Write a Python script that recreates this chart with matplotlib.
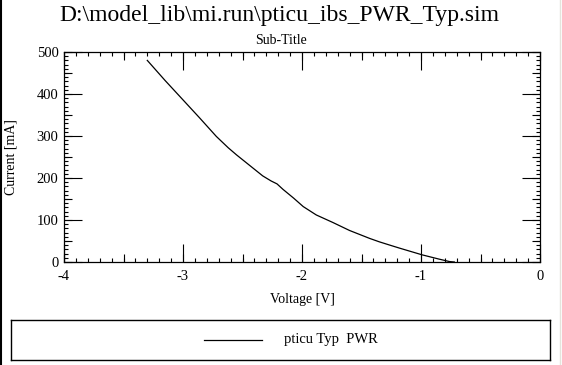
import matplotlib
matplotlib.use("Agg")
import matplotlib.pyplot as plt
from matplotlib.lines import Line2D
from matplotlib.ticker import MultipleLocator, NullFormatter

voltage = [-3.30, -3.15, -3.00, -2.86, -2.72, -2.62, -2.55, -2.44, -2.33, -2.26,
           -2.21, -2.16, -2.07, -1.99, -1.88, -1.74, -1.60, -1.43, -1.35, -1.26,
           -1.18, -0.99, -0.85, -0.76, -0.72]
current = [480, 432, 386, 343, 299, 272, 255, 230, 205, 193,
           186, 173, 152, 132, 112, 94, 75, 56, 48, 40,
           33, 17, 7, 1, 0]
series_name = "pticu Typ  PWR"
title = "D:\\model_lib\\mi.run\\pticu_ibs_PWR_Typ.sim"
subtitle = "Sub-Title"
xlabel = "Voltage [V]"
ylabel = "Current [mA]"

plt.rcParams['font.family'] = ['Liberation Serif', 'DejaVu Serif']
plt.rcParams['axes.unicode_minus'] = False

W, H = 562, 365
fig = plt.figure(figsize=(W / 100, H / 100), dpi=100)
fig.patch.set_facecolor('white')

def fx(px):
    return px / W

def fy(py):
    return 1 - py / H

L, R, T, B = 64, 540, 52, 262
ax = fig.add_axes([fx(L), fy(B), (R - L) / W, (B - T) / H])
ax.plot(voltage, current, color='black', lw=0.9)
ax.set_xlim(-4, 0)
ax.set_ylim(0, 500)

for s in ax.spines.values():
    s.set_linewidth(0.9)

ax.xaxis.set_major_locator(MultipleLocator(1))
ax.xaxis.set_minor_locator(MultipleLocator(0.1))
ax.yaxis.set_major_locator(MultipleLocator(100))
ax.yaxis.set_minor_locator(MultipleLocator(10))
ax.tick_params(which='major', direction='in', length=13, width=0.8,
               top=True, right=True, labelsize=10.5)
ax.tick_params(axis='x', which='major', pad=5.5)
ax.tick_params(axis='y', which='major', pad=4)
ax.tick_params(which='minor', direction='in', length=3, width=0.8,
               top=True, right=True)

# medium ticks at half intervals
ident = (lambda v: v, lambda v: v)
for side in ('bottom', 'top'):
    sec = ax.secondary_xaxis(side, functions=ident)
    sec.xaxis.set_major_locator(MultipleLocator(0.5))
    sec.xaxis.set_major_formatter(NullFormatter())
    sec.tick_params(direction='in', length=6, width=0.8)
    for s in sec.spines.values():
        s.set_visible(False)
for side in ('left', 'right'):
    sec = ax.secondary_yaxis(side, functions=ident)
    sec.yaxis.set_major_locator(MultipleLocator(50))
    sec.yaxis.set_major_formatter(NullFormatter())
    sec.tick_params(direction='in', length=6, width=0.8)
    for s in sec.spines.values():
        s.set_visible(False)

fig.text(fx(279), fy(15.5), title, ha='center', va='center', fontsize=17)
fig.text(fx(281), fy(40), subtitle, ha='center', va='center', fontsize=10)
fig.text(fx(302), fy(300), xlabel, ha='center', va='center', fontsize=10)
fig.text(fx(11), fy(157), ylabel, ha='center', va='center', fontsize=10,
         rotation=90)

# legend box
lax = fig.add_axes([fx(11), fy(360), (550 - 11) / W, (360 - 320) / H])
lax.set_xlim(0, 1)
lax.set_ylim(0, 1)
lax.set_xticks([])
lax.set_yticks([])
for s in lax.spines.values():
    s.set_linewidth(1.0)
lax.add_line(Line2D([(204 - 11) / 539, (262 - 11) / 539], [0.5, 0.5],
                    color='black', lw=0.9))
lax.text((284 - 11) / 539, 0.5, series_name, ha='left', va='center',
         fontsize=10.5)

# window edges
fig.add_artist(Line2D([fx(1), fx(1)], [0, 1], color='black', lw=1.5))
fig.add_artist(Line2D([fx(559.5), fx(559.5)], [0, 1], color='#e4e4dc', lw=1.0))

fig.savefig('out.png', dpi=100)
